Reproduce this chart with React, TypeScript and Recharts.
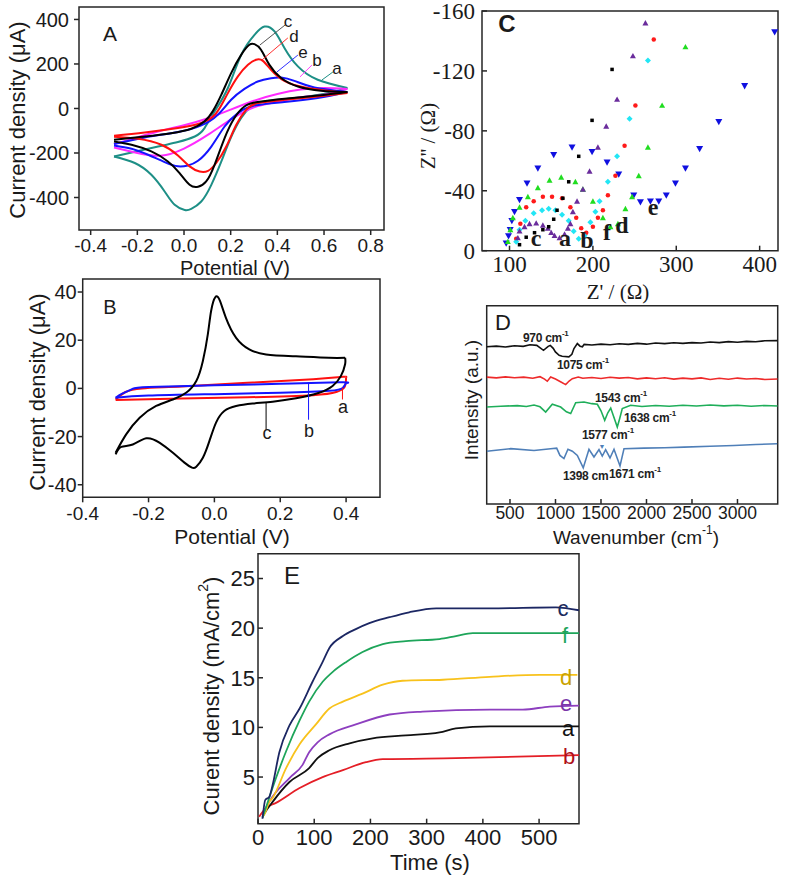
import React from 'react';
import {
  LineChart,
  Line,
  XAxis,
  YAxis,
  ScatterChart,
  Scatter,
  ReferenceArea,
  ReferenceLine,
} from 'recharts';

const SANS = 'Arial, "Liberation Sans", sans-serif';
const SERIF = '"Times New Roman", "Liberation Serif", serif';
const FRAME = '#262626';

type Pt = [number, number];

// ---------- A: CV of the electrodes (potential V, current µA), forward / reverse scans
const aA_fwd: Pt[] = [[-0.3, -216], [-0.111, -171], [-0.026, -151], [0.046, -126], [0.088, -88], [0.131, -13], [0.188, 92], [0.245, 241], [0.302, 331], [0.345, 368], [0.388, 346], [0.431, 271], [0.488, 189], [0.573, 129], [0.7, 92]];
const aA_rev: Pt[] = [[0.7, 92], [0.615, 69], [0.473, 47], [0.345, 31], [0.288, 9], [0.245, -43], [0.2, -133], [0.16, -238], [0.117, -343], [0.074, -418], [0.031, -451], [0.003, -456], [-0.04, -433], [-0.083, -373], [-0.14, -298], [-0.211, -245], [-0.3, -216]];
const bA_fwd: Pt[] = [[-0.3, -160], [-0.2, -130], [-0.1, -100], [0.0, -75], [0.1, -45], [0.2, -5], [0.3, 35], [0.4, 65], [0.5, 85], [0.6, 92], [0.7, 88]];
const bA_rev: Pt[] = [[0.7, 88], [0.6, 62], [0.5, 50], [0.4, 30], [0.3, 5], [0.2, -50], [0.1, -120], [0.0, -180], [-0.1, -212], [-0.2, -200], [-0.3, -175]];
const cA_fwd: Pt[] = [[-0.3, -141], [-0.168, -126], [-0.055, -111], [0.031, -91], [0.088, -58], [0.123, -13], [0.16, 62], [0.202, 159], [0.245, 241], [0.28, 286], [0.302, 289], [0.33, 264], [0.366, 196], [0.416, 137], [0.488, 99], [0.587, 80], [0.7, 74]];
const cA_rev: Pt[] = [[0.7, 74], [0.573, 58], [0.431, 44], [0.316, 29], [0.259, 9], [0.216, -43], [0.174, -133], [0.131, -253], [0.095, -328], [0.06, -352], [0.024, -343], [-0.019, -290], [-0.069, -238], [-0.14, -193], [-0.225, -163], [-0.3, -148]];
const dA_fwd: Pt[] = [[-0.3, -123], [-0.168, -108], [-0.026, -88], [0.06, -70], [0.117, -43], [0.153, 2], [0.188, 69], [0.231, 144], [0.274, 196], [0.309, 219], [0.338, 214], [0.373, 174], [0.43, 124], [0.53, 92], [0.7, 69]];
const dA_rev: Pt[] = [[0.7, 69], [0.573, 54], [0.43, 39], [0.316, 24], [0.266, -6], [0.224, -73], [0.181, -171], [0.138, -245], [0.103, -280], [0.067, -283], [0.024, -260], [-0.026, -211], [-0.097, -163], [-0.197, -136], [-0.3, -127]];
const eA_fwd: Pt[] = [[-0.3, -160], [-0.168, -130], [-0.026, -106], [0.074, -76], [0.145, -28], [0.202, 39], [0.259, 88], [0.316, 121], [0.373, 136], [0.416, 139], [0.473, 124], [0.559, 94], [0.7, 74]];
const eA_rev: Pt[] = [[0.7, 74], [0.573, 47], [0.43, 29], [0.302, 13], [0.231, -21], [0.174, -81], [0.117, -171], [0.06, -235], [0.017, -256], [-0.026, -260], [-0.083, -241], [-0.154, -208], [-0.225, -181], [-0.3, -166]];

// ---------- B: CV (potential V, current µA)
const aB_fwd: Pt[] = [[-0.3, -4.6], [-0.27, -1.5], [-0.22, 0], [-0.1, 0.8], [0.1, 2.3], [0.3, 3.8], [0.39, 4.8], [0.4, 4.6]];
const aB_rev: Pt[] = [[0.4, 4.6], [0.395, 0.5], [0.37, -1.5], [0.3, -2.8], [0.1, -3.7], [-0.1, -4.2], [-0.3, -4.8]];
const bB_fwd: Pt[] = [[-0.3, -3.9], [-0.28, -2.2], [-0.25, -0.3], [-0.2, 0.6], [0.0, 1.3], [0.2, 1.9], [0.38, 2.5], [0.4, 2.2]];
const bB_rev: Pt[] = [[0.4, 2.2], [0.39, 0.2], [0.35, -1.0], [0.2, -1.8], [0.0, -2.4], [-0.2, -3.0], [-0.3, -3.9]];
const cB_fwd: Pt[] = [[-0.3, -26.7], [-0.268, -19.1], [-0.227, -12.2], [-0.177, -7.3], [-0.126, -4.6], [-0.086, -1.8], [-0.055, 3.1], [-0.035, 11.4], [-0.02, 22.4], [-0.01, 32.1], [0.003, 37.9], [0.017, 36.3], [0.035, 29.3], [0.066, 21], [0.106, 16.2], [0.157, 14.1], [0.248, 13.3], [0.348, 12.7], [0.397, 12.7]];
const cB_rev: Pt[] = [[0.397, 12.7], [0.397, 10], [0.384, 5.1], [0.359, 1], [0.318, -1.8], [0.248, -4.1], [0.177, -5.5], [0.116, -6.3], [0.066, -7.3], [0.03, -9.4], [0.005, -14.2], [-0.015, -21.8], [-0.035, -28.8], [-0.055, -32.5], [-0.068, -32.9], [-0.091, -30.8], [-0.126, -26.7], [-0.167, -22.5], [-0.207, -20.7], [-0.248, -23.3], [-0.283, -24.3], [-0.3, -27.4]];

// ---------- C: Nyquist plots (Z' Ω, Z'' Ω)
const nyqBlack: Pt[] = [[112, -4], [120, -9], [130, -12], [140, -14], [147, -16], [153, -21], [157, -27], [164, -35], [171, -46], [183, -63], [199, -87], [223, -121]];
const nyqRed: Pt[] = [[108, -8], [113, -18], [120, -29], [129, -33], [140, -36], [151, -36], [163, -35], [173, -29], [180, -22], [186, -15], [192, -12], [200, -16], [206, -22], [212, -27], [218, -37], [227, -50], [238, -70], [251, -97], [273, -141]];
const nyqCyan: Pt[] = [[108, -6], [112, -14], [119, -20], [129, -25], [139, -27], [147, -28], [155, -27], [163, -24], [171, -20], [177, -13], [183, -8], [190, -10], [197, -19], [203, -26], [208, -33], [218, -46], [229, -63], [244, -88], [266, -127]];
const nyqPurple: Pt[] = [[110, -8.5], [112, -13], [118, -16], [124, -18], [132, -18.4], [140, -17], [146, -15], [150, -12], [154, -10], [160, -8.5], [166, -11], [170, -15], [173, -18], [176, -26], [181, -33], [188, -41], [196, -53], [206, -69], [216, -83], [229, -101], [248, -130], [263, -152]];
const nyqGreen: Pt[] = [[98, -6], [101, -14], [104, -22], [112, -29], [122, -36], [134, -42], [148, -47], [162, -49], [179, -46], [188, -41], [200, -33], [212, -22], [221, -16], [230, -18], [239, -28], [247, -36], [255, -50], [266, -69], [283, -97], [311, -136]];
const nyqBlue: Pt[] = [[96, -5], [98.8, -9.8], [100.8, -14], [102.8, -20], [106, -26], [112, -34], [121, -45], [134, -55], [153, -64], [175, -69], [199, -66], [217, -59], [231, -51], [249, -37], [257, -32.5], [269, -33], [279, -33], [288, -37], [299, -45], [311, -55], [328, -68], [351, -86], [382, -110], [418, -146]];

// ---------- D: FTIR (wavenumber cm-1, intensity a.u.)
const irBlack: Pt[] = [[244, 79.3], [350, 79.6], [450, 79.2], [550, 79.8], [645, 79.5], [720, 80.3], [794, 80], [868, 77.5], [920, 79.5], [943, 80], [975, 78.5], [999, 76.7], [1040, 75], [1073, 74.5], [1147, 74.2], [1180, 75.5], [1203, 78.4], [1240, 80.9], [1270, 79.6], [1296, 79.3], [1315, 80.5], [1400, 80.2], [1500, 80.6], [1600, 80.3], [1700, 80.8], [1800, 80.5], [1900, 81], [2000, 80.6], [2100, 81.2], [2200, 80.9], [2300, 81.3], [2400, 81], [2500, 81.4], [2600, 81.2], [2700, 81.7], [2800, 81.4], [2900, 81.9], [3000, 81.6], [3100, 82], [3200, 81.8], [3300, 82.3], [3442, 82.4]];
const irRed: Pt[] = [[244, 64], [350, 63.6], [450, 64.1], [550, 63.7], [650, 64], [750, 63.4], [830, 64.2], [880, 63], [910, 61.9], [947, 64], [1000, 63], [1060, 61.5], [1112, 60.2], [1150, 62], [1185, 63.2], [1250, 64], [1300, 63.4], [1400, 63.8], [1500, 63.3], [1600, 63.9], [1700, 63.5], [1800, 63.8], [1900, 63.1], [2000, 63.6], [2100, 63.2], [2200, 63.7], [2300, 63], [2400, 63.5], [2500, 63.1], [2600, 63.6], [2700, 62.8], [2800, 63.4], [2900, 62.9], [3000, 63.5], [3100, 63], [3200, 63.3], [3300, 62.8], [3442, 63]];
const irGreen: Pt[] = [[244, 48.9], [400, 49.3], [580, 49.6], [680, 49.2], [764, 49.9], [830, 49], [892, 46.4], [965, 50.3], [1057, 48.9], [1120, 46.5], [1167, 45.6], [1222, 51.1], [1313, 51.4], [1400, 50.6], [1460, 50.3], [1500, 47], [1541, 42.2], [1575, 46], [1607, 48.4], [1640, 44], [1679, 38.8], [1705, 43], [1734, 48.1], [1826, 49.8], [1950, 49.2], [2100, 49.7], [2250, 49.3], [2400, 49.8], [2550, 49.4], [2700, 49.9], [2850, 49.5], [3000, 49.8], [3150, 49.3], [3300, 49.7], [3442, 49.4]];
const irBlue: Pt[] = [[244, 26.6], [508, 27.9], [764, 27], [947, 27.9], [1013, 28.2], [1049, 24.5], [1093, 22.9], [1137, 27.6], [1185, 26.6], [1240, 24.5], [1305, 18.2], [1368, 27.6], [1423, 23.7], [1478, 27.4], [1514, 24.2], [1551, 27.4], [1599, 23.2], [1643, 27.6], [1709, 19.2], [1753, 27.9], [1973, 28.2], [2200, 28.4], [2412, 28.7], [2700, 29.1], [2962, 29.5], [3200, 30], [3437, 30.4]];

// ---------- E: chronoamperometry (time s, current density mA/cm2)
const jtC: Pt[] = [[8, 0.8], [13, 2.7], [20, 3.0], [26, 4.2], [38, 7.5], [56, 10.2], [74, 11.9], [97, 14.6], [115, 16.6], [127, 18], [151, 19.2], [174, 19.9], [198, 20.5], [234, 21.1], [269, 21.6], [317, 22], [412, 22], [530, 22.1], [571, 21.8]];
const jtF: Pt[] = [[8, 0.9], [14, 1.9], [32, 4.9], [50, 7.6], [74, 10.7], [91, 12.6], [115, 14.6], [133, 15.6], [157, 16.6], [186, 17.6], [222, 18.4], [263, 18.7], [323, 18.9], [352, 19.2], [382, 19.5], [571, 19.5]];
const jtD: Pt[] = [[8, 1.0], [11, 1.2], [20, 2.5], [26, 2.9], [50, 5.9], [74, 8.3], [103, 10.3], [127, 11.9], [151, 12.6], [186, 13.4], [222, 14.3], [257, 14.7], [329, 14.8], [412, 15.1], [501, 15.3], [568, 15.3]];
const jtE: Pt[] = [[8, 1.0], [11, 1.5], [20, 2.5], [56, 4.9], [79, 6.2], [91, 7.5], [106, 8.5], [127, 9.3], [174, 10.3], [234, 11.3], [293, 11.6], [412, 11.8], [471, 11.8], [519, 12.1], [571, 12.2]];
const jtA: Pt[] = [[8, 1.0], [11, 1.3], [26, 2.5], [56, 4.5], [91, 5.9], [106, 6.9], [127, 7.7], [163, 8.4], [204, 8.9], [263, 9.2], [323, 9.5], [352, 9.9], [412, 10.1], [571, 10.1]];
const jtB: Pt[] = [[2, 1.0], [14, 1.9], [32, 2.4], [74, 3.9], [115, 5.0], [151, 5.7], [192, 6.5], [222, 6.8], [352, 6.9], [571, 7.2]];

// tick labels
const ticksA_x = [-0.4, -0.2, 0, 0.2, 0.4, 0.6, 0.8];
const ticksA_y = [-400, -200, 0, 200, 400];
const ticksB_x = [-0.4, -0.2, 0, 0.2, 0.4];
const ticksB_y = [-40, -20, 0, 20, 40];
const ticksC_x = [100, 200, 300, 400];
const ticksC_y = [0, -40, -80, -120, -160];
const ticksD_x = [500, 1000, 1500, 2000, 2500, 3000];
const ticksE_x = [0, 100, 200, 300, 400, 500];
const ticksE_y = [5, 10, 15, 20, 25];

const pts = (p: Pt[]) => p.map(([x, y]) => ({ x, y }));

const marker = (kind: string, fill: string, s: number) => (p: any) => {
  const { cx, cy } = p;
  if (cx == null || cy == null) return <g />;
  if (kind === 'square') return <rect x={cx - s / 2} y={cy - s / 2} width={s} height={s} fill={fill} />;
  if (kind === 'circle') return <circle cx={cx} cy={cy} r={s / 2} fill={fill} />;
  if (kind === 'diamond')
    return <polygon points={`${cx},${cy - s / 2} ${cx + s / 2},${cy} ${cx},${cy + s / 2} ${cx - s / 2},${cy}`} fill={fill} />;
  if (kind === 'down')
    return <polygon points={`${cx - s / 2},${cy - s * 0.4} ${cx + s / 2},${cy - s * 0.4} ${cx},${cy + s * 0.5}`} fill={fill} />;
  return <polygon points={`${cx},${cy - s * 0.5} ${cx + s / 2},${cy + s * 0.4} ${cx - s / 2},${cy + s * 0.4}`} fill={fill} />;
};

const T = ({ x, y, size, children, fill = '#1a1a1a', family = SANS, weight = 400, rotate = false, anchor = 'middle' }: any) => (
  <text
    x={x}
    y={y}
    fontSize={size}
    fill={fill}
    fontFamily={family}
    fontWeight={weight}
    textAnchor={anchor}
    dominantBaseline="central"
    transform={rotate ? `rotate(-90 ${x} ${y})` : undefined}
  >
    {children}
  </text>
);

// peak annotation in panel D, left-anchored, "cm" with optional -1 superscript
const Peak = ({ x, y, label, sup = true }: { x: number; y: number; label: string; sup?: boolean }) => (
  <text x={x} y={y} fontSize={12} fontWeight={600} fill="#222" fontFamily={SANS} dominantBaseline="central" letterSpacing={-0.3}>
    {label}
    {sup && <tspan fontSize={8} dy={-5}>-1</tspan>}
  </text>
);

const tickStyle = (size: number, family = SANS) => ({ fontSize: size, fill: '#1a1a1a', fontFamily: family });
const tl = { stroke: FRAME, strokeWidth: 1.5 };

function CvA() {
  const series = [
    { f: aA_fwd, r: aA_rev, c: '#1d8f86' },
    { f: bA_fwd, r: bA_rev, c: '#ff2bff' },
    { f: eA_fwd, r: eA_rev, c: '#1414ff' },
    { f: dA_fwd, r: dA_rev, c: '#ff1010' },
    { f: cA_fwd, r: cA_rev, c: '#000000' },
  ];
  return (
    <LineChart width={400} height={280} margin={{ top: 7, right: 16, bottom: 20, left: 0 }}>
      <XAxis type="number" dataKey="x" domain={[-0.45, 0.857]} ticks={ticksA_x} interval={0} allowDataOverflow
        tickFormatter={(v) => v.toFixed(1)} tick={tickStyle(19)} tickLine={tl} axisLine={false} tickSize={5} tickMargin={4} height={30} />
      <YAxis type="number" dataKey="y" domain={[-546, 456]} ticks={ticksA_y} interval={0} allowDataOverflow
        tick={tickStyle(20)} tickLine={tl} axisLine={false} tickSize={5} tickMargin={5} width={79} />
      <ReferenceArea x1={-0.45} x2={0.857} y1={-546} y2={456} fill="none" stroke={FRAME} strokeWidth={1.5} />
      {series.map((s, i) => [
        <Line key={`f${i}`} data={pts(s.f)} dataKey="y" type="natural" stroke={s.c} strokeWidth={2} dot={false} isAnimationActive={false} />,
        <Line key={`r${i}`} data={pts(s.r)} dataKey="y" type="natural" stroke={s.c} strokeWidth={2} dot={false} isAnimationActive={false} />,
      ])}
      <ReferenceLine segment={[{ x: 0.433, y: 375 }, { x: 0.325, y: 285 }]} stroke="#555" strokeWidth={1} />
      <ReferenceLine segment={[{ x: 0.445, y: 317 }, { x: 0.334, y: 218 }]} stroke="#ff3030" strokeWidth={1} />
      <ReferenceLine segment={[{ x: 0.488, y: 240 }, { x: 0.398, y: 164 }]} stroke="#3030ff" strokeWidth={1} />
      <ReferenceLine segment={[{ x: 0.548, y: 195 }, { x: 0.497, y: 142 }]} stroke="#ff40ff" strokeWidth={1} />
      <ReferenceLine segment={[{ x: 0.638, y: 164 }, { x: 0.591, y: 128 }]} stroke="#1d8f86" strokeWidth={1} />
    </LineChart>
  );
}

function CvB() {
  const series = [
    { f: aB_fwd, r: aB_rev, c: '#ff1010' },
    { f: bB_fwd, r: bB_rev, c: '#1414ff' },
    { f: cB_fwd, r: cB_rev, c: '#000000' },
  ];
  return (
    <LineChart width={400} height={280} margin={{ top: 9, right: 20, bottom: 22.7, left: 0 }}>
      <XAxis type="number" dataKey="x" domain={[-0.4, 0.503]} ticks={ticksB_x} interval={0} allowDataOverflow
        tickFormatter={(v) => v.toFixed(1)} tick={tickStyle(19)} tickLine={tl} axisLine={false} tickSize={5} tickMargin={4} height={30} />
      <YAxis type="number" dataKey="y" domain={[-45.2, 45.4]} ticks={ticksB_y} interval={0} allowDataOverflow
        tick={tickStyle(20)} tickLine={tl} axisLine={false} tickSize={5} tickMargin={1} width={82.7} />
      <ReferenceArea x1={-0.4} x2={0.503} y1={-45.2} y2={45.4} fill="none" stroke={FRAME} strokeWidth={1.5} />
      {series.map((s, i) => [
        <Line key={`f${i}`} data={pts(s.f)} dataKey="y" type="natural" stroke={s.c} strokeWidth={2} dot={false} isAnimationActive={false} />,
        <Line key={`r${i}`} data={pts(s.r)} dataKey="y" type="natural" stroke={s.c} strokeWidth={2} dot={false} isAnimationActive={false} />,
      ])}
      <ReferenceLine segment={[{ x: 0.389, y: 0.3 }, { x: 0.389, y: -4.6 }]} stroke="#ff1010" strokeWidth={1} />
      <ReferenceLine segment={[{ x: 0.286, y: 2.4 }, { x: 0.286, y: -13 }]} stroke="#1414ff" strokeWidth={1} />
      <ReferenceLine segment={[{ x: 0.157, y: -5.9 }, { x: 0.157, y: -17.1 }]} stroke="#000" strokeWidth={1} />
    </LineChart>
  );
}

function Nyquist() {
  const series = [
    { d: nyqBlue, m: marker('down', '#1010e0', 7) },
    { d: nyqGreen, m: marker('up', '#20dd20', 6) },
    { d: nyqRed, m: marker('circle', '#ff1a1a', 4.5) },
    { d: nyqCyan, m: marker('diamond', '#22e6f5', 6) },
    { d: nyqPurple, m: marker('up', '#6a2c9c', 6) },
    { d: nyqBlack, m: marker('square', '#000', 3.5) },
  ];
  return (
    <ScatterChart width={387} height={300} margin={{ top: 11, right: 9, bottom: 19.3, left: 0 }}>
      <XAxis type="number" dataKey="x" domain={[67, 422]} ticks={ticksC_x} interval={0} allowDataOverflow
        tick={tickStyle(23, SERIF)} tickLine={tl} axisLine={false} tickSize={-5} tickMargin={10} height={30} />
      <YAxis type="number" dataKey="y" domain={[-160, 0]} reversed ticks={ticksC_y} interval={0} allowDataOverflow
        tick={tickStyle(23, SERIF)} tickLine={tl} axisLine={false} tickSize={-5} tickMargin={12} width={82} />
      <ReferenceArea x1={67} x2={422} y1={-160} y2={0} fill="none" stroke={FRAME} strokeWidth={1.5} />
      {series.map((s, i) => (
        <Scatter key={i} data={pts(s.d)} shape={s.m} isAnimationActive={false} />
      ))}
    </ScatterChart>
  );
}

function Ftir() {
  const series = [
    { d: irBlack, c: '#111' },
    { d: irRed, c: '#ee2a2a' },
    { d: irGreen, c: '#1fae5a' },
    { d: irBlue, c: '#4f7fb8' },
  ];
  return (
    <LineChart width={367} height={260} margin={{ top: 5.7, right: 9.3, bottom: 26, left: 66.7 }}>
      <XAxis type="number" dataKey="x" domain={[244, 3442]} ticks={ticksD_x} interval={0} allowDataOverflow
        tick={tickStyle(17.5)} tickLine={tl} axisLine={false} tickSize={-5} tickMargin={8} height={30} />
      <YAxis type="number" dataKey="y" domain={[0, 100]} hide />
      <ReferenceArea x1={244} x2={3442} y1={0} y2={100} fill="none" stroke={FRAME} strokeWidth={1.5} />
      {series.map((s, i) => (
        <Line key={i} data={pts(s.d)} dataKey="y" type="linear" stroke={s.c} strokeWidth={1.6} dot={false} isAnimationActive={false} />
      ))}
    </LineChart>
  );
}

function Chrono() {
  const series = [
    { d: jtB, c: '#e41e26' },
    { d: jtA, c: '#111' },
    { d: jtE, c: '#8d3fbf' },
    { d: jtD, c: '#f8c21c' },
    { d: jtF, c: '#1ea55a' },
    { d: jtC, c: '#1c2763' },
  ];
  return (
    <LineChart width={420} height={337} margin={{ top: 13.7, right: 21, bottom: 23.3, left: 0 }}>
      <XAxis type="number" dataKey="x" domain={[0, 571]} ticks={ticksE_x} interval={0} allowDataOverflow
        tick={tickStyle(22)} tickLine={tl} axisLine={false} tickSize={-5} tickMargin={11} height={30} />
      <YAxis type="number" dataKey="y" domain={[0.3, 27.5]} ticks={ticksE_y} interval={0} allowDataOverflow
        tick={tickStyle(22)} tickLine={tl} axisLine={false} tickSize={-5} tickMargin={8} width={78} />
      <ReferenceArea x1={0} x2={571} y1={0.3} y2={27.5} fill="none" stroke={FRAME} strokeWidth={1.5} />
      {series.map((s, i) => (
        <Line key={i} data={pts(s.d)} dataKey="y" type="monotone" stroke={s.c} strokeWidth={1.8} dot={false} isAnimationActive={false} />
      ))}
    </LineChart>
  );
}

const at = (left: number, top: number): React.CSSProperties => ({ position: 'absolute', left, top });

export default function App() {
  return (
    <div style={{ position: 'absolute', left: 0, top: 0, width: 787, height: 877, background: '#fff' }}>
      <div style={at(0, 0)}><CvA /></div>
      <div style={at(0, 270)}><CvB /></div>
      <div style={at(400, 0)}><Nyquist /></div>
      <div style={at(420, 300)}><Ftir /></div>
      <div style={at(180, 540)}><Chrono /></div>

      <svg width={787} height={877} style={{ position: 'absolute', left: 0, top: 0, pointerEvents: 'none' }}>
        {/* A */}
        <T x={110} y={33} size={21}>A</T>
        <T x={288} y={21} size={17}>c</T>
        <T x={294} y={36} size={17}>d</T>
        <T x={303} y={52} size={17}>e</T>
        <T x={317} y={60} size={17}>b</T>
        <T x={337} y={68} size={17}>a</T>
        <T x={17} y={120} size={22} rotate>Current density (μA)</T>
        <T x={235} y={268} size={20}>Potential (V)</T>

        {/* B */}
        <T x={110} y={307} size={20}>B</T>
        <T x={343} y={407} size={18}>a</T>
        <T x={309} y={431} size={18}>b</T>
        <T x={267} y={433} size={18}>c</T>
        <T x={37} y={392} size={22} rotate>Current density (μA)</T>
        <T x={232} y={536} size={21}>Potential (V)</T>

        {/* C */}
        <T x={507} y={23} size={24} weight={700}>C</T>
        <T x={536} y={238} size={24} family={SERIF} weight={700}>c</T>
        <T x={565} y={238} size={24} family={SERIF} weight={700}>a</T>
        <T x={587} y={240} size={24} family={SERIF} weight={700}>b</T>
        <T x={607} y={232} size={24} family={SERIF} weight={700}>f</T>
        <T x={622} y={225} size={24} family={SERIF} weight={700}>d</T>
        <T x={653} y={207} size={24} family={SERIF} weight={700}>e</T>
        <T x={428} y={136} size={21} family={SERIF} rotate>{"Z'' / (Ω)"}</T>
        <T x={618} y={292} size={21} family={SERIF}>{"Z' / (Ω)"}</T>

        {/* D */}
        <T x={503} y={322} size={22}>D</T>
        <Peak x={523} y={338} label="970 cm" />
        <Peak x={557} y={365} label="1075 cm" />
        <Peak x={595} y={398} label="1543 cm" />
        <Peak x={624} y={418} label="1638 cm" />
        <Peak x={582} y={435} label="1577 cm" />
        <T x={602} y={446} size={7} fill="#4f7fb8">▼</T>
        <Peak x={563} y={476} label="1398 cm" sup={false} />
        <Peak x={609} y={474} label="1671 cm" />
        <T x={471} y={400} size={19} rotate>Intensity (a.u.)</T>
        <text x={636} y={537} fontSize={19} fill="#1a1a1a" fontFamily={SANS} textAnchor="middle" dominantBaseline="central">
          {'Wavenumber (cm'}
          <tspan fontSize={12} dy={-7}>-1</tspan>
          <tspan dy={7}>)</tspan>
        </text>

        {/* E */}
        <T x={292} y={575} size={24}>E</T>
        <T x={563} y={608} size={22} fill="#1b2a5c">c</T>
        <T x={565} y={635} size={22} fill="#1ea55a">f</T>
        <T x={566} y={677} size={22} fill="#c9a200">d</T>
        <T x={566} y={703} size={22} fill="#7a35a8">e</T>
        <T x={568} y={728} size={22} fill="#111">a</T>
        <T x={569} y={756} size={22} fill="#b01018">b</T>
        <text x={211} y={696} fontSize={22} fill="#1a1a1a" fontFamily={SANS} textAnchor="middle" dominantBaseline="central" transform="rotate(-90 211 696)">
          {'Curent density (mA/cm'}
          <tspan fontSize={14} dy={-8}>2</tspan>
          <tspan dy={8}>)</tspan>
        </text>
        <T x={430} y={862} size={22}>Time (s)</T>
      </svg>
    </div>
  );
}
